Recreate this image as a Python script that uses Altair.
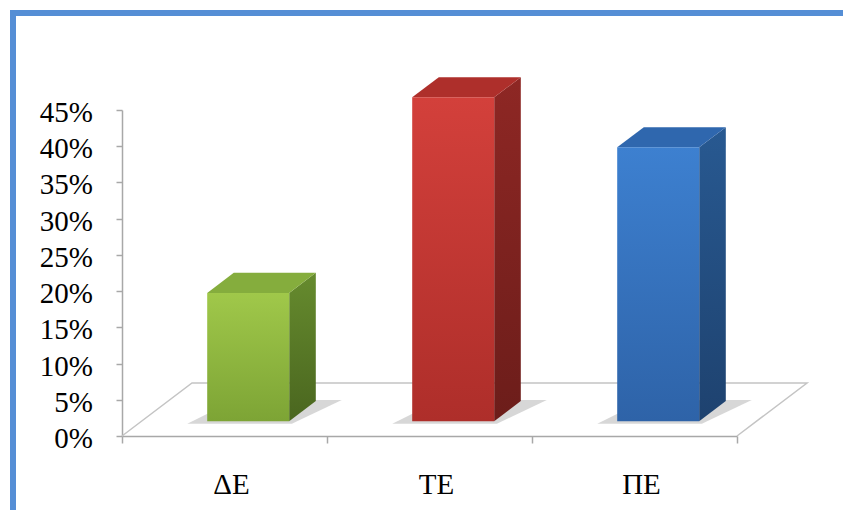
import altair as alt
import pandas as pd

# ---- data ----
categories = ["ΔΕ", "ΤΕ", "ΠΕ"]
shares = [0.177, 0.447, 0.378]
y_ticks = [0, 0.05, 0.10, 0.15, 0.20, 0.25, 0.30, 0.35, 0.40, 0.45]

# face colours for each column (front gradient, side gradient, top)
front_light = ["#a0c84a", "#d3403b", "#3d80d0"]
front_dark = ["#7da435", "#ae2e2a", "#2e63a8"]
side_light = ["#668b2e", "#8e2724", "#285991"]
side_dark = ["#4a661f", "#6c1d1a", "#1e426f"]
top_col = ["#85ad3d", "#ae2f2b", "#2f67ae"]

SERIF = "Liberation Serif"

# ---- geometry of the oblique 3-D box ----
W, H = 615, 326
Y_MAX = 0.45
N = len(categories)
PX_X = W / N            # pixels per category
PX_Y = H / Y_MAX        # pixels per unit of share
FLOOR_DX = 70 / PX_X    # depth direction, data units
FLOOR_DY = 53 / PX_Y
Z_FRONT, Z_BACK = 0.28, 0.66
BAR_CENTER, BAR_HALF = 0.52, 0.2

xs = alt.Scale(domain=[0, N], nice=False, zero=False)
ys = alt.Scale(domain=[0, Y_MAX], nice=False)
AXIS_GREY = "#a8a8a8"
x_axis = alt.Axis(values=list(range(N + 1)), labels=False, tickSize=7,
                  tickColor=AXIS_GREY, domainColor=AXIS_GREY, domainWidth=1.5,
                  tickWidth=1.5, grid=False, title=None)
y_axis = alt.Axis(values=y_ticks, labels=False, tickSize=6, tickColor=AXIS_GREY,
                  domainColor=AXIS_GREY, domainWidth=1.5, tickWidth=1.5,
                  grid=False, title=None)


def X(field):
    return alt.X(f"{field}:Q", scale=xs, axis=x_axis)


def Y(field):
    return alt.Y(f"{field}:Q", scale=ys, axis=y_axis)


def shift(z):
    return z * FLOOR_DX, z * FLOOR_DY


# ---- tables derived from the arrays ----
front_rows, side_rows, top_rows, shadow_rows = [], [], [], []
for i, (cat, v) in enumerate(zip(categories, shares)):
    left = i + BAR_CENTER - BAR_HALF
    right = i + BAR_CENTER + BAR_HALF
    fx, fy = shift(Z_FRONT)
    bx, by = shift(Z_BACK)
    front_rows.append(dict(cat=cat, x=left + fx, x2=right + fx, y=fy, y2=v + fy))
    for k, (dx, dy) in enumerate([(fx, fy), (bx, by)]):
        side_rows.append(dict(cat=cat, k=k, x=right + dx, y=dy, y2=v + dy))
        top_rows.append(dict(cat=cat, k=k, y=v + dy, x=left + dx, x2=right + dx))
    sx0, sy0 = shift(Z_FRONT - 0.05)
    sx1, sy1 = shift(Z_BACK + 0.02)
    shadow_rows.append(dict(cat=cat, k=0, y=sy0, x=left - 0.08 + sx0, x2=right + 0.03 + sx0))
    shadow_rows.append(dict(cat=cat, k=1, y=sy1, x=left + sx1, x2=right + 0.12 + sx1))

front_df = pd.DataFrame(front_rows)
side_df = pd.DataFrame(side_rows)
top_df = pd.DataFrame(top_rows)
shadow_df = pd.DataFrame(shadow_rows)

floor_df = pd.DataFrame({
    "k": [0, 1, 2, 3],
    "x": [0, FLOOR_DX, N + FLOOR_DX, N],
    "y": [0, FLOOR_DY, FLOOR_DY, 0],
})
label_df = pd.DataFrame({"cat": categories, "mid": [i + 0.5 for i in range(N)]})
ytick_df = pd.DataFrame({"v": y_ticks})


def vgrad(c1, c2):
    return alt.Gradient(gradient="linear", x1=0, y1=0, x2=0, y2=1,
                        stops=[alt.GradientStop(color=c1, offset=0),
                               alt.GradientStop(color=c2, offset=1)])


frame = pd.DataFrame({"k": [0]})
layers = []

# plain white edges on the top and right of the plot box, under everything else
layers.append(
    alt.Chart(frame).mark_rule(color="white", strokeWidth=3)
    .encode(x=alt.value(2), x2=alt.value(W + 2), y=alt.value(0))
)
layers.append(
    alt.Chart(frame).mark_rule(color="white", strokeWidth=3)
    .encode(x=alt.value(W), y=alt.value(-2), y2=alt.value(H - 4))
)

# floor outline (front edge is the x-axis line)
layers.append(
    alt.Chart(floor_df).mark_line(color="#c4c4c4", strokeWidth=1.5)
    .encode(x=X("x"), y=Y("y"), order="k:Q")
)

for i, cat in enumerate(categories):
    sel = alt.datum.cat == cat
    # soft shadow on the floor
    layers.append(
        alt.Chart(shadow_df).transform_filter(sel)
        .mark_area(orient="horizontal", color="#a6a6a6", opacity=0.45)
        .encode(y=Y("y"), x=X("x"), x2="x2:Q")
    )
    layers.append(
        alt.Chart(side_df).transform_filter(sel)
        .mark_area(orient="vertical", fill=vgrad(side_light[i], side_dark[i]))
        .encode(x=X("x"), y=Y("y"), y2="y2:Q")
    )
    layers.append(
        alt.Chart(top_df).transform_filter(sel)
        .mark_area(orient="horizontal", color=top_col[i])
        .encode(y=Y("y"), x=X("x"), x2="x2:Q")
    )
    layers.append(
        alt.Chart(front_df).transform_filter(sel)
        .mark_rect(fill=vgrad(front_light[i], front_dark[i]))
        .encode(x=X("x"), x2="x2:Q", y=Y("y"), y2="y2:Q")
    )

# percentage labels beside the vertical axis
layers.append(
    alt.Chart(ytick_df).mark_text(font=SERIF, fontSize=29, color="black",
                                  align="right", baseline="middle", dy=3)
    .encode(x=alt.value(-29), y=Y("v"), text=alt.Text("v:Q", format=".0%"))
)

# category labels under the front edge
layers.append(
    alt.Chart(label_df).mark_text(font=SERIF, fontSize=29, color="black",
                                  baseline="top", dx=7)
    .encode(x=X("mid"), y=alt.value(H + 35), text="cat:N")
)

# blue frame along the top and left of the figure
layers.append(
    alt.Chart(frame).mark_rule(color="#558ed5", strokeWidth=6)
    .encode(x=alt.value(-109), y=alt.value(-100), y2=alt.value(H + 74))
)
layers.append(
    alt.Chart(frame).mark_rule(color="#558ed5", strokeWidth=6)
    .encode(x=alt.value(-112), x2=alt.value(W + 106), y=alt.value(-97))
)

chart = (
    alt.layer(*layers)
    .properties(width=W, height=H,
                view=alt.ViewBackground(stroke="transparent", strokeWidth=0),
                padding={"left": 122, "top": 110, "right": 106, "bottom": 74},
                autosize=alt.AutoSizeParams(type="none"))
    .configure(background="white")
    .configure_view(strokeWidth=0, stroke="transparent")
)

chart.save("out.html", embed_options={"renderer": "svg", "actions": False})
